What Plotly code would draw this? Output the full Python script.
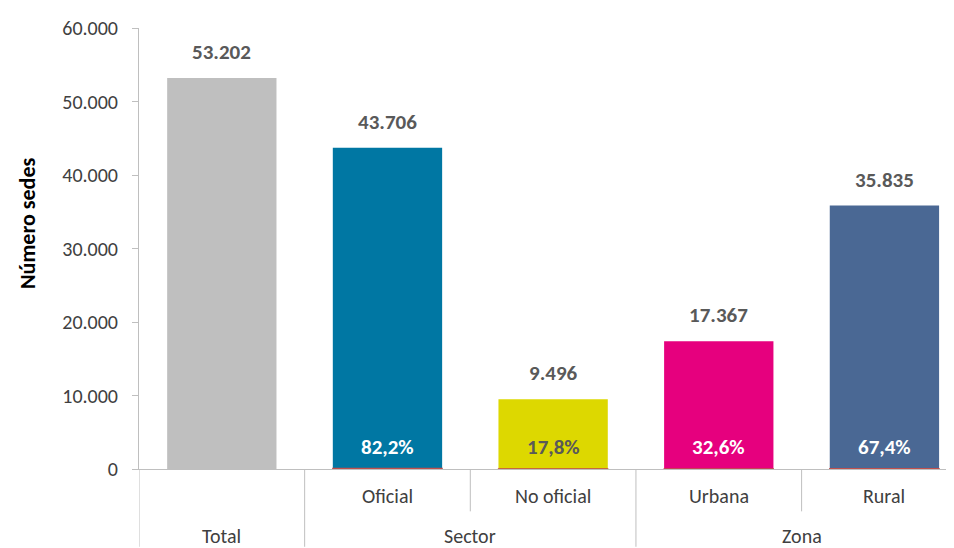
import plotly.graph_objects as go

# Datos
categorias = ["Total", "Oficial", "No oficial", "Urbana", "Rural"]
grupos = ["Total", "Sector", "Sector", "Zona", "Zona"]
sedes = [53202, 43706, 9496, 17367, 35835]
porcentajes = [None, 82.2, 17.8, 32.6, 67.4]
colores = ["#BFBFBF", "#0077A3", "#DDD800", "#E6007E", "#4A6894"]
color_texto_pct = ["white", "white", "#595959", "white", "white"]

fuente = "Calibri, Carlito, Lato, sans-serif"
gris_linea = "#BFBFBF"
x = list(range(len(categorias)))

fig = go.Figure()

fig.add_trace(go.Bar(
    x=x, y=sedes,
    marker=dict(color=colores, line=dict(width=0)),
    width=0.66,
    showlegend=False,
))

# serie de porcentajes (barras diminutas en la base)
fig.add_trace(go.Bar(
    x=x, y=[p if p is not None else 0 for p in porcentajes],
    marker=dict(color="#C0504D", line=dict(color=["rgba(0,0,0,0)"] + ["#C0504D"] * 4, width=1.2)),
    width=0.66,
    showlegend=False,
))

# etiquetas de valor
for i, v in enumerate(sedes):
    fig.add_annotation(
        x=i, y=v, yshift=26, yanchor="middle", showarrow=False,
        text="<b>" + f"{v:,}".replace(",", ".") + "</b>",
        font=dict(family=fuente, size=21, color="#595959"),
    )

for i, p in enumerate(porcentajes):
    if p is None:
        continue
    fig.add_annotation(
        x=i, y=0, yshift=22, yanchor="middle", showarrow=False,
        text=f"<b>{p:.1f}%</b>".replace(".", ","),
        font=dict(family=fuente, size=21, color=color_texto_pct[i]),
    )

# etiquetas de categoría
for i, c in enumerate(categorias):
    desplaz = -67 if grupos[i] == c else -27
    fig.add_annotation(x=i, y=0, yref="paper", yshift=desplaz, yanchor="middle", showarrow=False,
                       text=c, font=dict(family=fuente, size=20, color="#404040"))
for g, xc in [("Sector", 1.5), ("Zona", 3.5)]:
    fig.add_annotation(x=xc, y=0, yref="paper", yshift=-67, yanchor="middle", showarrow=False,
                       text=g, font=dict(family=fuente, size=20, color="#404040"))

# título del eje y
fig.add_annotation(x=0, xref="paper", xshift=-111, y=(469 - 220) / 448, yref="paper",
                   textangle=-90, showarrow=False, xanchor="center", yanchor="middle",
                   text="<b>Número sedes</b>", font=dict(family=fuente, size=22, color="black"))

# separadores
for xs, y0 in [(-0.5, -79 / 448), (0.5, -79 / 448), (2.5, -79 / 448), (1.5, -43 / 448), (3.5, -43 / 448)]:
    fig.add_shape(type="line", xref="x", yref="paper", x0=xs, x1=xs, y0=y0, y1=0,
                  line=dict(color=gris_linea, width=1))

fig.update_layout(
    width=954, height=548,
    margin=dict(l=131, r=8, t=13, b=87),
    barmode="overlay",
    separators=",.",
    plot_bgcolor="white",
    paper_bgcolor="white",
    font=dict(family=fuente, color="#404040"),
    xaxis=dict(
        range=[-0.5, 4.42], showticklabels=False, ticks="",
        showgrid=False, zeroline=False, showline=True, linecolor=gris_linea, linewidth=1,
    ),
    yaxis=dict(
        range=[0, 60000], dtick=10000, tickformat=",d",
        showgrid=False, zeroline=False, showline=True, linecolor=gris_linea, linewidth=1,
        ticks="outside", ticklen=6, tickcolor=gris_linea, ticklabelstandoff=10,
        tickfont=dict(family=fuente, size=20, color="#404040"),
    ),
)

fig.write_html("out.html")
